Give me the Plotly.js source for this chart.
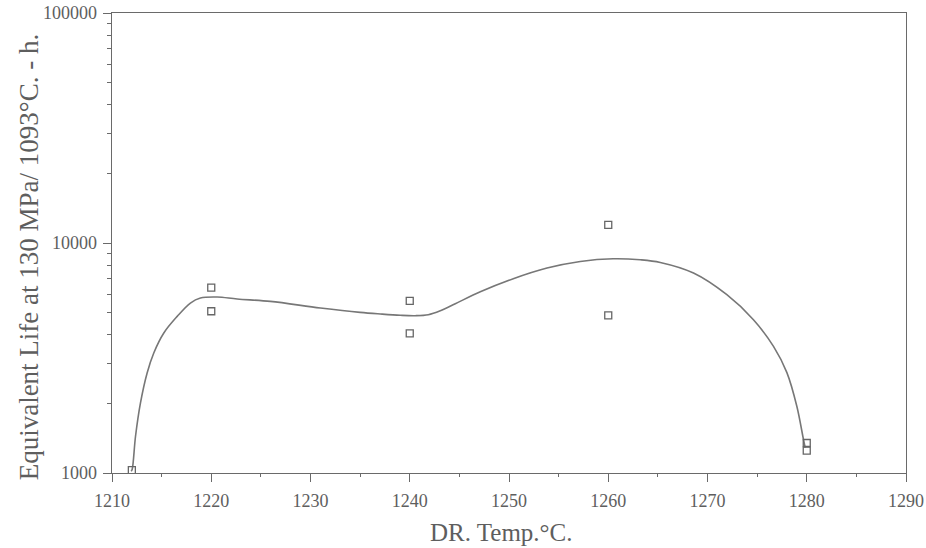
<!DOCTYPE html>
<html>
<head>
<meta charset="utf-8">
<script src="https://cdn.plot.ly/plotly-3.0.1.min.js"></script>
<style>html,body{margin:0;padding:0;background:#fff;}#chart{width:926px;height:548px;}</style>
</head>
<body>
<div id="chart"></div>
<script>
// Measured points
const pointTemps = [1212, 1220, 1220, 1240, 1240, 1260, 1260, 1280, 1280];
const pointLives = [1030, 6400, 5050, 5600, 4050, 12000, 4850, 1350, 1250];

// Fitted curve
const curveTemps = [1211.93, 1212.03, 1212.37, 1212.87, 1213.54, 1214.21, 1215.22, 1216.57, 1217.9, 1218.91, 1220.59, 1222.61, 1225.96, 1231.0, 1235.0, 1237.04, 1239.05, 1240.56, 1241.87, 1243.08, 1244.59, 1247.11, 1250.43, 1253.83, 1257.18, 1260.5, 1263.22, 1265.24, 1268.59, 1271.95, 1274.63, 1276.65, 1278.0, 1279.0, 1279.67, 1279.84];
const curveLives = [1018, 1036, 1445, 2018, 2723, 3326, 4062, 4797, 5483, 5764, 5823, 5706, 5572, 5215, 4992, 4913, 4850, 4830, 4878, 5076, 5447, 6138, 6993, 7781, 8313, 8541, 8454, 8230, 7403, 5957, 4639, 3553, 2732, 1950, 1398, 1290];

const xTickVals = [1210, 1220, 1230, 1240, 1250, 1260, 1270, 1280, 1290];
const xMinorVals = [1215, 1225, 1235, 1245, 1255, 1265, 1275, 1285];
const yTickVals = [1000, 10000, 100000];
const yTickText = ['1000', '10000', '100000'];
const yMinorVals = [2000, 3000, 4000, 5000, 6000, 7000, 8000, 9000, 20000, 30000, 40000, 50000, 60000, 70000, 80000, 90000];
const xTitle = 'DR. Temp.°C.';
const yTitle = 'Equivalent Life at 130 MPa/ 1093°C. - h.';

const axisColor = '#6a6a6a';
const textColor = '#5e5e5e';
const serif = '"Liberation Serif", "DejaVu Serif", serif';

const traces = [
  {
    x: curveTemps, y: curveLives, type: 'scatter', mode: 'lines',
    line: {color: '#777', width: 1.6, shape: 'spline', smoothing: 1},
    hoverinfo: 'skip'
  },
  {
    x: pointTemps, y: pointLives, type: 'scatter', mode: 'markers',
    marker: {symbol: 'square-open', size: 7, color: '#666', line: {width: 1.3, color: '#666'}}
  }
];

const layout = {
  width: 926, height: 548,
  margin: {l: 111.5, r: 20, t: 13, b: 74.5},
  paper_bgcolor: '#fff', plot_bgcolor: '#fff',
  showlegend: false,
  font: {family: serif, color: textColor, size: 18},
  xaxis: {
    range: [1210, 1290], tickvals: xTickVals,
    ticks: 'outside', ticklen: 8, tickwidth: 1, tickcolor: axisColor,
    minor: {tickvals: xMinorVals, ticks: 'outside', ticklen: 3, tickcolor: axisColor},
    showline: true, linecolor: axisColor, linewidth: 1.3, mirror: true,
    showgrid: false, zeroline: false, automargin: false,
    ticklabelstandoff: 3,
    tickfont: {family: serif, size: 18, color: textColor}
  },
  yaxis: {
    type: 'log', range: [3, 5], tickvals: yTickVals, ticktext: yTickText,
    ticks: 'outside', ticklen: 8, tickwidth: 1, tickcolor: axisColor,
    minor: {tickvals: yMinorVals, ticks: 'outside', ticklen: 4, tickcolor: axisColor},
    showline: true, linecolor: axisColor, linewidth: 1.3, mirror: true,
    showgrid: false, zeroline: false, automargin: false,
    ticklabelstandoff: 2,
    tickfont: {family: serif, size: 18, color: textColor}
  },
  annotations: [
    {
      text: xTitle, xref: 'paper', yref: 'paper', x: 0.4902, y: -0.0966,
      xanchor: 'center', yanchor: 'top', showarrow: false,
      font: {family: serif, size: 25, color: textColor}
    },
    {
      text: yTitle, xref: 'paper', yref: 'paper', x: -0.105, y: 0.468,
      xanchor: 'center', yanchor: 'middle', textangle: -90, showarrow: false,
      font: {family: serif, size: 27, color: textColor}
    }
  ]
};

Plotly.newPlot('chart', traces, layout, {displayModeBar: false, staticPlot: true});
</script>
</body>
</html>
